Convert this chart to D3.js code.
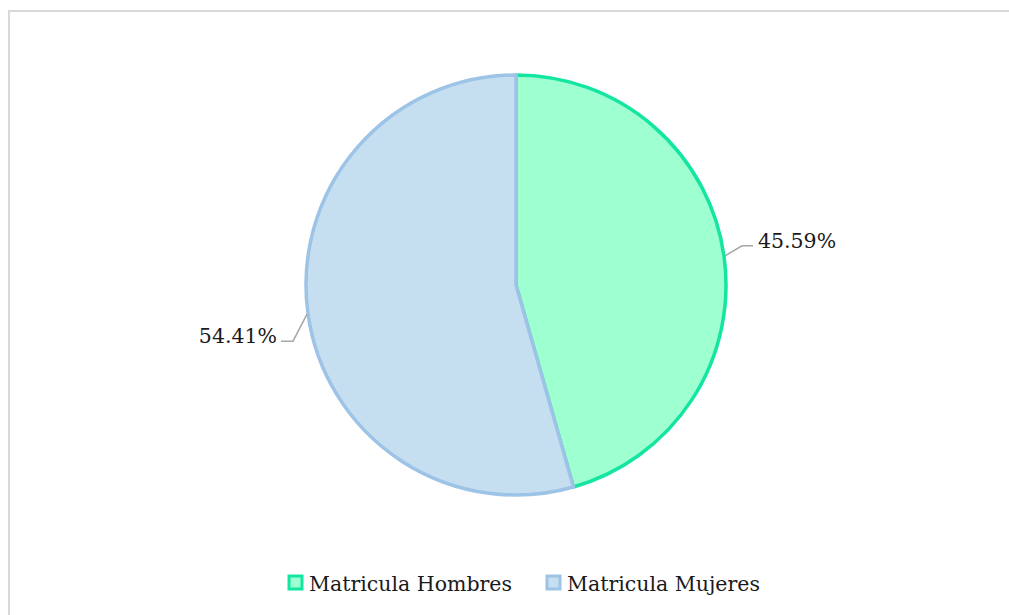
<!DOCTYPE html>
<html>
<head>
<meta charset="utf-8">
<script src="https://cdn.jsdelivr.net/npm/d3@7"></script>
<style>
  html, body { margin: 0; padding: 0; background: #fff; }
  svg { display: block; }
</style>
</head>
<body>
<svg id="chart" width="1009" height="615"></svg>
<script>
// Enrolment split by sex
const categories = ["Matricula Hombres", "Matricula Mujeres"];
const shares = [45.59, 54.41];
const labels = ["45.59%", "54.41%"];
const fills = ["#9effd0", "#c5dff1"];
const strokes = ["#14e6a2", "#9dc3e6"];

const FONT = "DejaVu Serif, serif";
const FONT_SIZE = "20.5px";

const svg = d3.select("#chart");
const W = 1009, H = 615;

// chart frame
svg.append("rect")
  .attr("x", 9).attr("y", 11)
  .attr("width", W + 10).attr("height", H + 10)
  .attr("fill", "#fff")
  .attr("stroke", "#d9d9d9")
  .attr("stroke-width", 2);

const cx = 516, cy = 285, r = 210;

const pie = d3.pie().sort(null).value(d => d);
const arcs = pie(shares);
const arc = d3.arc().innerRadius(0).outerRadius(r);

const g = svg.append("g").attr("transform", `translate(${cx},${cy})`);

g.selectAll("path.slice")
  .data(arcs)
  .join("path")
  .attr("class", "slice")
  .attr("d", arc)
  .attr("fill", (d, i) => fills[i])
  .attr("stroke", (d, i) => strokes[i])
  .attr("stroke-width", 3.5)
  .attr("stroke-linejoin", "round");

// leader lines and percentage labels
const leaderOffsets = [
  { dx: 17, dy: -10, run: 11 },
  { dx: -14, dy: 27, run: -12 }
];

arcs.forEach((d, i) => {
  const mid = (d.startAngle + d.endAngle) / 2;
  const x0 = Math.sin(mid) * (r + 1), y0 = -Math.cos(mid) * (r + 1);
  const o = leaderOffsets[i];
  const x1 = x0 + o.dx, y1 = y0 + o.dy;
  const x2 = x1 + o.run;
  g.append("polyline")
    .attr("points", [[x0, y0], [x1, y1], [x2, y1]].map(p => p.join(",")).join(" "))
    .attr("fill", "none")
    .attr("stroke", "#a6a6a6")
    .attr("stroke-width", 1.5);
  const right = o.run > 0;
  g.append("text")
    .attr("x", right ? x2 + 5 : x2 - 4)
    .attr("y", y1 + 2)
    .attr("text-anchor", right ? "start" : "end")
    .style("font-family", FONT)
    .style("font-size", FONT_SIZE)
    .attr("fill", "#1a1a1a")
    .text(labels[i]);
});

// legend
const legendItems = [
  { x: 289, label: categories[0], i: 0 },
  { x: 547, label: categories[1], i: 1 }
];
const legend = svg.append("g");
legendItems.forEach(it => {
  legend.append("rect")
    .attr("x", it.x).attr("y", 576)
    .attr("width", 13).attr("height", 13)
    .attr("fill", fills[it.i])
    .attr("stroke", strokes[it.i])
    .attr("stroke-width", 3);
  legend.append("text")
    .attr("x", it.x + 20)
    .attr("y", 591)
    .style("font-family", FONT)
    .style("font-size", FONT_SIZE)
    .attr("fill", "#1a1a1a")
    .text(it.label);
});
</script>
</body>
</html>
